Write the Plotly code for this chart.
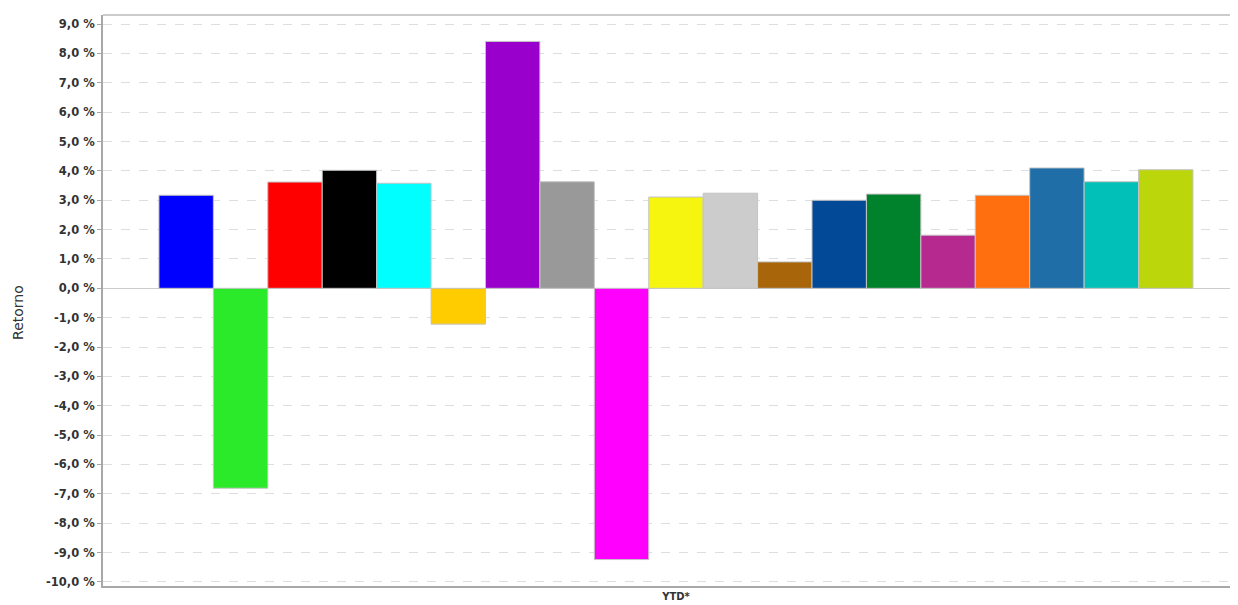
import plotly.graph_objects as go

categories = ["YTD*"]
series_names = [f"S{i+1}" for i in range(19)]
values = [3.17, -6.81, 3.62, 4.02, 3.58, -1.22, 8.41, 3.63, -9.24, 3.11,
          3.24, 0.90, 3.00, 3.21, 1.81, 3.17, 4.10, 3.63, 4.04]
colors = ["#0000FF", "#2AEA2A", "#FF0000", "#000000", "#00FFFF", "#FFCC00",
          "#9900CC", "#999999", "#FF00FF", "#F5F50F", "#CCCCCC", "#A8650A",
          "#024A98", "#00822D", "#B62A90", "#FF6E0F", "#1F6EA8", "#00C0B8",
          "#BBD60A"]
y_ticks = list(range(-10, 10))
y_tick_text = [f"{v:.1f}".replace(".", ",") + " %" for v in y_ticks]
y_title = "Retorno"

fig = go.Figure()
for name, v, c in zip(series_names, values, colors):
    fig.add_trace(go.Bar(
        name=name, x=categories, y=[v],
        marker=dict(color=c, line=dict(color="#c4c4c4", width=1)),
        hoverinfo="skip",
    ))

# page body has an 8px margin; compensate so the plot sits where the reference does
fig.update_layout(
    width=1230, height=597,
    margin=dict(l=95, r=0, t=7, b=19, autoexpand=False),
    barmode="group", bargap=0.1, bargroupgap=0,
    showlegend=False,
    plot_bgcolor="white", paper_bgcolor="white",
    font=dict(family="DejaVu Sans", size=11, color="#333333"),
)
fig.update_xaxes(
    range=[-0.4987, 0.4892],
    showline=True, linecolor="#a8a8a8", linewidth=2,
    showgrid=False, ticks="",
    tickfont=dict(size=10, color="#333333", weight="bold"),
)
fig.update_yaxes(
    range=[-10.14, 9.31],
    tickvals=y_ticks, ticktext=y_tick_text,
    tickfont=dict(size=11.5, color="#333333", weight="bold"),
    showline=True, linecolor="#a8a8a8", linewidth=2,
    ticks="outside", ticklen=4, tickcolor="#a8a8a8",
    showgrid=True, gridcolor="#dedede", griddash="dash", gridwidth=1,
    zeroline=True, zerolinecolor="#cccccc", zerolinewidth=1,
)
fig.add_annotation(text=y_title, xref="paper", yref="paper",
                   x=-0.0749, y=0.48, textangle=-90, showarrow=False,
                   xanchor="center", yanchor="middle",
                   font=dict(size=14, color="#333333"))
fig.add_shape(type="line", xref="paper", yref="paper", x0=0, x1=1, y0=1, y1=1,
              line=dict(color="#cccccc", width=2))

fig.write_html("out.html")
